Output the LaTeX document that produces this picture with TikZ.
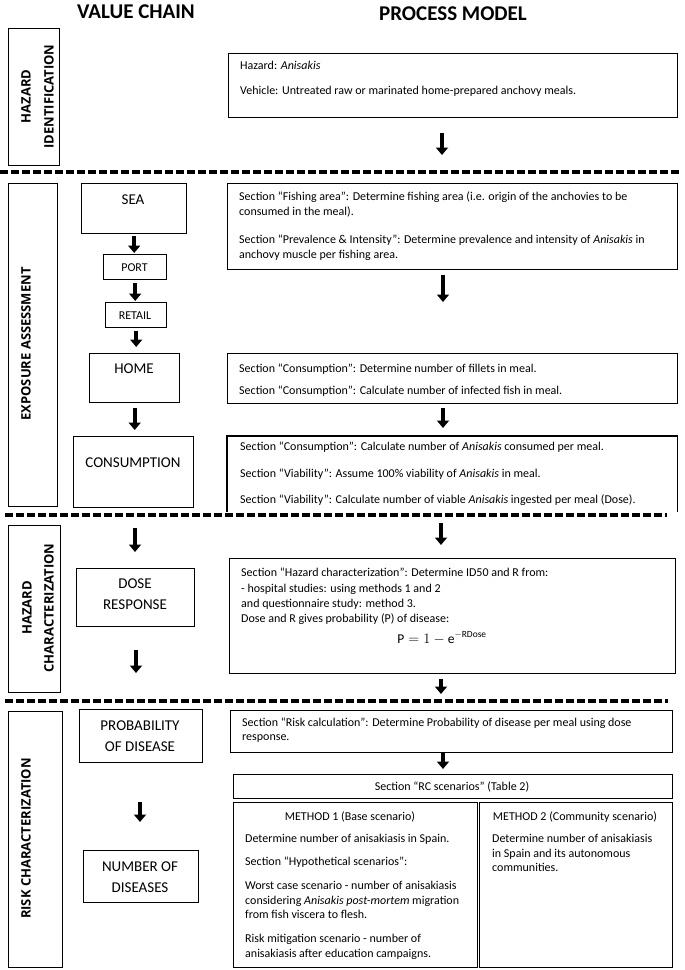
\documentclass[tikz,border=0pt]{standalone}
\usepackage{fontspec}
\setmainfont{Carlito}
\newfontfamily\labfont{Open Sans}
\usetikzlibrary{arrows.meta}
\tikzset{
  box/.style={draw, line width=1.4pt, inner sep=0pt, anchor=north west},
  nobox/.style={inner sep=0pt, anchor=north west},
  txt/.style={inner sep=0pt, anchor=mid west, font=\fontsize{12}{15}\selectfont},
  ctxt/.style={inner sep=0pt, anchor=center, font=\fontsize{12}{15}\selectfont},
  vc/.style={inner sep=0pt, anchor=center, align=center, font=\fontsize{15}{21}\selectfont},
  vcs/.style={inner sep=0pt, anchor=center, font=\fontsize{12}{15}\selectfont},
  side/.style={inner sep=0pt, anchor=center, rotate=90, font=\labfont\bfseries\fontsize{13}{16}\selectfont},
  title/.style={inner sep=0pt, anchor=center, font=\bfseries\fontsize{21}{24}\selectfont},
  arr/.style={line width=4pt, -{Triangle[width=12pt,length=7.5pt]}},
  sep/.style={line width=3.5pt, dash pattern=on 7.5pt off 3.5pt}
}
\begin{document}
\begin{tikzpicture}[x=1pt,y=-1pt]
\useasboundingbox (0,0) rectangle (685,970);

% titles
\node[title] (t1) at (136,12) {VALUE CHAIN};
\node[title] (t2) at (453,14) {PROCESS MODEL};

% separators
\coordinate (s1a) at (0,172);   \coordinate (s1b) at (680,172);
\coordinate (s2a) at (5,515);   \coordinate (s2b) at (667,515);
\coordinate (s3a) at (5,701);   \coordinate (s3b) at (668,701);

% side label boxes
\node[box, minimum width=51pt, minimum height=137pt] (hid) at (8,28) {};
\node[side] (hidt1) at (26,96.5) {HAZARD};
\node[side] (hidt2) at (49,96.5) {IDENTIFICATION};
\node[box, minimum width=49pt, minimum height=323pt] (exp) at (8,183) {};
\node[side] (expt) at (26,344) {EXPOSURE ASSESSMENT};
\node[box, minimum width=52pt, minimum height=167pt] (hch) at (8,525) {};
\node[side] (hcht1) at (27,608) {HAZARD};
\node[side] (hcht2) at (49,608) {CHARACTERIZATION};
\node[box, minimum width=54pt, minimum height=256pt] (rch) at (8,711) {};
\node[side] (rcht) at (26,838.5) {RISK CHARACTERIZATION};

% value chain
\node[box, minimum width=105pt, minimum height=50pt] (sea) at (81,183) {};
\node[vc] (seat) at (133,200) {SEA};
\node[box, minimum width=63pt, minimum height=25pt] (port) at (103,254) {};
\node[vcs] (portt) at (134.5,267.5) {PORT};
\node[box, minimum width=61pt, minimum height=25pt] (retail) at (105,302) {};
\node[vcs] (retailt) at (135,315.5) {RETAIL};
\node[box, minimum width=90pt, minimum height=49pt] (home) at (89,353) {};
\node[vc] (homet) at (134,369) {HOME};
\node[box, minimum width=120pt, minimum height=71pt] (cons) at (73,436) {};
\node[vc] (const) at (133,463) {CONSUMPTION};
\node[box, minimum width=118pt, minimum height=58pt] (dose) at (76,568) {};
\node[vc] (doset) at (135,594.5) {DOSE\\RESPONSE};
\node[box, minimum width=123pt, minimum height=53pt] (prob) at (79,709) {};
\node[vc] (probt) at (140,736.5) {PROBABILITY\\OF DISEASE};
\node[box, minimum width=115pt, minimum height=52pt] (numd) at (83,850) {};
\node[vc] (numdt) at (140,877.5) {NUMBER OF\\DISEASES};

\draw[arr, shorten <=2pt, shorten >=1pt] (sea.south) -- (sea.south |- port.north);
\draw[arr, shorten <=3pt, shorten >=1pt] (port.south) -- (port.south |- retail.north);
\draw[arr, shorten <=3pt, shorten >=6pt] (retail.south) -- (retail.south |- home.north);
\draw[arr, shorten <=5pt, shorten >=6pt] (home.south) -- (home.south |- cons.north);
\coordinate (l1a) at (135,528); \coordinate (l1b) at (135,552);
\coordinate (l2a) at (136,650); \coordinate (l2b) at (136,673);
\coordinate (l3a) at (140,802); \coordinate (l3b) at (140,822);
\draw[arr] (l1a) -- (l1b);
\draw[arr] (l2a) -- (l2b);
\draw[arr] (l3a) -- (l3b);

% process model
\node[box, minimum width=449pt, minimum height=64pt] (hz) at (228,53) {};
\node[txt] (hz1) at (240,67) {Hazard: \textit{Anisakis}};
\node[txt] (hz2) at (240,92) {Vehicle: Untreated raw or marinated home-prepared anchovy meals.};

\node[box, minimum width=450pt, minimum height=86pt] (fa) at (227,183) {};
\node[txt] (fa1) at (239,198) {Section “Fishing area”: Determine fishing area (i.e. origin of the anchovies to be};
\node[txt] (fa2) at (239,213) {consumed in the meal).};
\node[txt] (fa3) at (239,241) {Section “Prevalence \& Intensity”: Determine prevalence and intensity of \textit{Anisakis} in};
\node[txt] (fa4) at (239,256) {anchovy muscle per fishing area.};

\node[box, minimum width=450pt, minimum height=50pt] (cs1) at (227,353) {};
\node[txt] (cs11) at (239,370) {Section “Consumption”: Determine number of fillets in meal.};
\node[txt] (cs12) at (239,392) {Section “Consumption”: Calculate number of infected fish in meal.};

\node[nobox, minimum width=450pt, minimum height=76pt] (cs2) at (227,436) {};
\draw[line width=1.4pt] (cs2.south west) -- (cs2.north west) -- (cs2.north east) -- (cs2.south east);
\node[txt] (cs21) at (240,448) {Section “Consumption”: Calculate number of \textit{Anisakis} consumed per meal.};
\node[txt] (cs22) at (240,475) {Section “Viability”: Assume 100\% viability of \textit{Anisakis} in meal.};
\begin{scope}
\clip (0,0) rectangle (685,505.5);
\node[txt] (cs23) at (240,501) {Section “Viability”: Calculate number of viable \textit{Anisakis} ingested per meal (Dose).};
\end{scope}

\node[box, minimum width=446pt, minimum height=115pt] (hc) at (229,558) {};
\node[txt] (hc1) at (241,574) {Section “Hazard characterization”: Determine ID50 and R from:};
\node[txt] (hc2) at (241,590) {- hospital studies: using methods 1 and 2};
\node[txt] (hc3) at (241,605) {and questionnaire study: method 3.};
\node[txt] (hc4) at (241,620) {Dose and R gives probability (P) of disease:};
\node[ctxt, font=\fontsize{13.5}{16}\selectfont] (hc5) at (442,638) {$\mathrm{P} = 1 - \mathrm{e}^{-\mathrm{RDose}}$};

\node[box, minimum width=442pt, minimum height=42pt] (rc) at (230,710) {};
\node[txt] (rc1) at (242,724) {Section “Risk calculation”: Determine Probability of disease per meal using dose};
\node[txt] (rc2) at (242,738) {response.};

\node[box, minimum width=439pt, minimum height=24pt] (rcs) at (233,774) {};
\node[ctxt] (rcst) at (452,787) {Section “RC scenarios” (Table 2)};

\node[box, minimum width=244pt, minimum height=165pt] (m1) at (233,802) {};
\node[ctxt] (m1t) at (350,817) {METHOD 1 (Base scenario)};
\node[txt] (m11) at (245,840) {Determine number of anisakiasis in Spain.};
\node[txt] (m12) at (245,863) {Section “Hypothetical scenarios”:};
\node[txt] (m13) at (245,887) {Worst case scenario - number of anisakiasis};
\node[txt] (m14) at (245,902) {considering \textit{Anisakis post-mortem} migration};
\node[txt] (m15) at (245,916) {from fish viscera to flesh.};
\node[txt] (m16) at (245,940) {Risk mitigation scenario - number of};
\node[txt] (m17) at (245,955) {anisakiasis after education campaigns.};

\node[box, minimum width=193pt, minimum height=165pt] (m2) at (479,802) {};
\node[ctxt] (m2t) at (575,817) {METHOD 2 (Community scenario)};
\node[txt] (m21) at (492,840) {Determine number of anisakiasis};
\node[txt] (m22) at (492,855) {in Spain and its autonomous};
\node[txt] (m23) at (492,869) {communities.};

% process arrows
\coordinate (r1a) at (442,133); \coordinate (r1b) at (442,155);
\coordinate (r2a) at (443,275); \coordinate (r2b) at (443,302);
\coordinate (r3a) at (443,408); \coordinate (r3b) at (443,428);
\coordinate (r4a) at (441,523); \coordinate (r4b) at (441,545);
\coordinate (r5a) at (441,679); \coordinate (r5b) at (441,694);
\coordinate (r6a) at (443,753); \coordinate (r6b) at (443,769);
\foreach \a/\b in {r1a/r1b,r2a/r2b,r3a/r3b,r4a/r4b,r5a/r5b,r6a/r6b}
  \draw[arr] (\a) -- (\b);

% dashed separators
\draw[sep] (s1a) -- (s1b);
\draw[sep] (s2a) -- (s2b);
\draw[sep] (s3a) -- (s3b);
\end{tikzpicture}
\end{document}
